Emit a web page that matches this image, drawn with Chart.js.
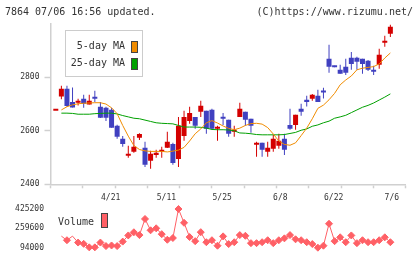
<!DOCTYPE html>
<html><head><meta charset="utf-8">
<script src="https://cdn.jsdelivr.net/npm/chart.js@4"></script>
<style>
html,body{margin:0;padding:0;background:#fff;}
#wrap{position:relative;width:420px;height:259px;overflow:hidden;font-family:"DejaVu Sans Mono",monospace;color:#333;}
canvas{position:absolute;left:0;top:0;}
.t{position:absolute;font-size:10px;line-height:12px;white-space:nowrap;}
.sw{position:absolute;box-sizing:border-box;border:1px solid #444;}
</style></head><body>
<div id="wrap">
<canvas id="main" width="420" height="259"></canvas>
<canvas id="vol" width="420" height="259"></canvas>
<div class="t" style="left:5px;top:6px">7864 07/06 16:56 updated.</div>
<div class="t" style="right:7px;top:6px">(C)https://www.rizumu.net/</div>
<div style="position:absolute;left:65px;top:30px;width:78px;height:47px;box-sizing:border-box;border:1.5px solid #ccc;background:#fff;"></div>
<div class="t" style="left:55px;width:70px;text-align:right;top:40px">5-day MA</div>
<div class="t" style="left:55px;width:70px;text-align:right;top:56.5px">25-day MA</div>
<div class="sw" style="left:131px;top:41px;width:7px;height:12px;background:#f08c00"></div>
<div class="sw" style="left:131px;top:58px;width:7px;height:12px;background:#00a000"></div>
<div class="t" style="left:58px;top:216px">Volume</div>
<div class="sw" style="left:101px;top:213px;width:7px;height:15px;background:#ff6066"></div>
</div>
<script>
const dates = ['4/21','5/11','5/25','6/8','6/22','7/6'];
const dateIdx = [10,20,30,40,50,60];
const priceTicks = [2400,2600,2800];
const volTicks = [94000,259600,425200];

const open  = [2675,2728,2757,2708,2705,2720,2698,2727,2690,2686,2679,2619,2570,2507,2522,2574,2537,2488,2510,2522,2537,2551,2495,2581,2637,2652,2671,2675,2679,2608,2652,2641,2596,2652,2671,2645,2548,2555,2522,2533,2544,2570,2622,2622,2682,2716,2720,2731,2750,2869,2843,2828,2839,2873,2873,2869,2862,2828,2847,2929,2963];
const high  = [2675,2768,2768,2762,2720,2735,2735,2750,2708,2690,2686,2623,2581,2544,2581,2591,2559,2525,2529,2540,2596,2555,2652,2675,2690,2652,2712,2675,2682,2619,2667,2641,2619,2705,2671,2645,2559,2555,2559,2585,2589,2589,2682,2660,2701,2731,2738,2753,2761,2922,2843,2847,2869,2895,2877,2869,2865,2843,2907,2955,2996];
const low   = [2675,2718,2690,2687,2695,2686,2698,2708,2648,2637,2611,2570,2540,2499,2518,2566,2465,2458,2499,2499,2536,2473,2465,2563,2626,2608,2652,2589,2604,2563,2622,2578,2578,2652,2619,2593,2503,2503,2503,2522,2533,2510,2604,2604,2656,2691,2712,2708,2721,2817,2838,2813,2809,2828,2828,2813,2824,2809,2832,2914,2951];
const close = [2675,2757,2693,2687,2712,2701,2712,2720,2649,2649,2611,2578,2551,2511,2540,2588,2473,2514,2518,2529,2559,2480,2619,2652,2667,2619,2694,2608,2608,2615,2645,2589,2604,2682,2641,2619,2555,2529,2537,2570,2563,2529,2608,2660,2671,2708,2735,2708,2743,2839,2838,2813,2817,2850,2858,2850,2828,2821,2884,2936,2989];
const ma5   = [null,2678,2690,2697,2701,2703,2704,2705,2705,2700,2686,2664,2620,2580,2545,2530,2525,2523,2523,2523,2521,2524,2528,2538,2562,2589,2607,2630,2638,2629,2618,2609,2604,2610,2620,2627,2628,2625,2612,2588,2562,2549,2546,2555,2582,2610,2645,2684,2696,2716,2740,2772,2790,2805,2828,2834,2837,2840,2850,2872,2891];
const ma25  = [null,2666,2666,2665,2662,2662,2662,2664,2665,2666,2666,2663,2657,2652,2647,2645,2640,2635,2630,2628,2627,2626,2620,2614,2614,2614,2613,2610,2605,2604,2604,2603,2600,2592,2591,2589,2586,2585,2585,2585,2585,2586,2590,2594,2602,2607,2617,2622,2630,2636,2647,2652,2658,2668,2678,2688,2695,2704,2715,2726,2738];
const volume = [null,193000,158000,193000,138000,127000,97000,97000,138000,108000,113000,108000,146000,199000,226000,202000,340000,243000,260000,210000,162000,177000,425200,307000,185000,150000,227000,141000,158000,111000,191000,125000,141000,202000,196000,133000,133000,141000,158000,133000,158000,174000,202000,166000,158000,141000,125000,94000,111000,299000,150000,183000,141000,199000,133000,158000,141000,141000,158000,183000,141000];

const UP = '#d40000', DOWN = '#4040c0', AX = '#d0d0d0', TXT = '#333';
const X_MIN = -0.95, X_MAX = 62.75;
const idx = close.map((_, i) => i);
const candleColor = idx.map(i => close[i] >= open[i] ? UP : DOWN);
const markTicks = Array.from({length: 12}, (_, k) => X_MIN + k * (X_MAX - X_MIN) / 11);

Chart.defaults.font.family = "'DejaVu Sans Mono', monospace";
Chart.defaults.font.size = 8;
Chart.defaults.color = TXT;

new Chart(document.getElementById('main'), {
  type: 'bar',
  data: {
    datasets: [
      {type: 'line', label: '5-day MA', data: idx.map(i => ({x: i, y: ma5[i]})), borderColor: '#f08c00', borderWidth: 1, pointRadius: 0, order: 0},
      {type: 'line', label: '25-day MA', data: idx.map(i => ({x: i, y: ma25[i]})), borderColor: '#00a000', borderWidth: 1, pointRadius: 0, order: 0},
      {type: 'bar', label: 'body', data: idx.map(i => ({x: i, y: [open[i], close[i]]})), backgroundColor: candleColor, barThickness: 5, minBarLength: 2, inflateAmount: 0, grouped: false, order: 1},
      {type: 'bar', label: 'wick', data: idx.map(i => ({x: i, y: [low[i], high[i]]})), backgroundColor: candleColor, barThickness: 1, inflateAmount: 0, grouped: false, order: 2}
    ]
  },
  options: {
    responsive: false, animation: false, devicePixelRatio: 1,
    layout: {padding: {left: 0, right: 14.3, top: 23.8, bottom: 0}},
    plugins: {legend: {display: false}, tooltip: {enabled: false}},
    scales: {
      x: {
        type: 'linear', min: X_MIN, max: X_MAX, offset: false, bounds: 'data',
        afterBuildTicks: s => { s.ticks = [...markTicks, ...dateIdx].map(v => ({value: v})); },
        afterFit: s => { s.height = 74.7; },
        grid: {display: true, offset: false, drawOnChartArea: false, drawTicks: true, tickLength: 4, tickWidth: 1.5,
               tickColor: ctx => ctx.index < 12 ? AX : 'rgba(0,0,0,0)'},
        border: {display: true, color: AX, width: 1.5},
        ticks: {autoSkip: false, maxRotation: 0, align: 'end', labelOffset: 8.7, padding: 5, color: TXT,
                callback: (v, i) => i >= 12 ? dates[i - 12] : ''}
      },
      y: {
        type: 'linear', min: 2400, max: 3000, beginAtZero: false,
        afterBuildTicks: s => { s.ticks = priceTicks.map(v => ({value: v})); },
        afterFit: s => { s.width = 50.5; },
        grid: {display: true, drawOnChartArea: false, drawTicks: true, tickLength: 6, tickWidth: 1.5, tickColor: AX},
        border: {display: true, color: AX, width: 1.5},
        ticks: {padding: 5, color: TXT, callback: v => String(v)}
      }
    }
  }
});

new Chart(document.getElementById('vol'), {
  type: 'line',
  data: {
    datasets: [{
      label: 'Volume', data: idx.map(i => ({x: i, y: volume[i]})),
      borderColor: '#ff6066', backgroundColor: '#ff6066', borderWidth: 1,
      pointStyle: 'rectRot', pointRadius: idx.map(i => (i === 1 || i === 3) ? 0 : 3.5),
      pointBorderWidth: 1, clip: false
    }]
  },
  options: {
    responsive: false, animation: false, devicePixelRatio: 1,
    layout: {padding: {left: 0, right: 14.3, top: 209, bottom: 10}},
    plugins: {legend: {display: false}, tooltip: {enabled: false}},
    scales: {
      x: {type: 'linear', min: X_MIN, max: X_MAX, display: false},
      y: {
        type: 'linear', min: 94000, max: 425200,
        afterBuildTicks: s => { s.ticks = volTicks.map(v => ({value: v})); },
        afterFit: s => { s.width = 50.5; },
        grid: {display: false, drawTicks: false},
        border: {display: false},
        ticks: {padding: 6.5, color: TXT, callback: v => String(v)}
      }
    }
  }
});
</script>
</body></html>
